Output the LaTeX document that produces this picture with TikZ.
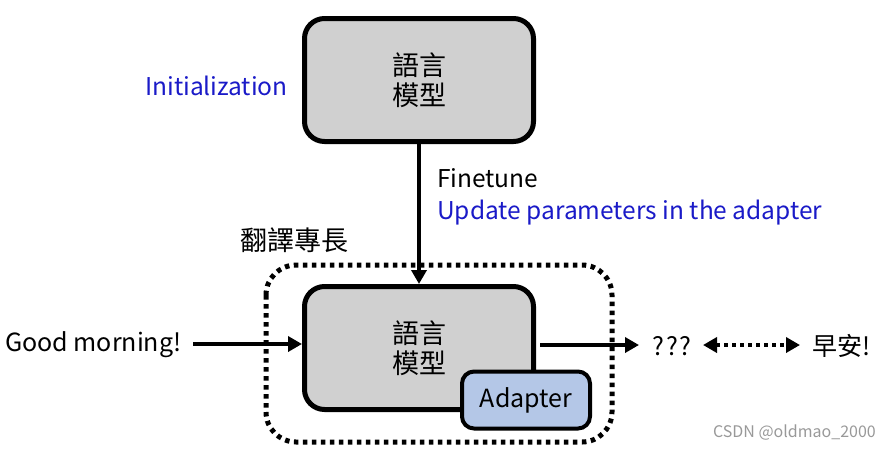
\documentclass[tikz,border=0pt]{standalone}
\usepackage{fontspec}
\setmainfont{Noto Sans CJK TC}
\usetikzlibrary{arrows.meta,positioning}
\definecolor{lmgray}{HTML}{D0D0D0}
\definecolor{adblue}{HTML}{B4C7E7}
\definecolor{ublue}{HTML}{1A1AC8}
\tikzset{
  lmbox/.style={draw=black, line width=5pt, fill=lmgray, rounded corners=20pt, minimum width=229pt, minimum height=123pt, align=center, font=\fontsize{27}{34}\selectfont, inner sep=0pt},
  adbox/.style={draw=black, line width=4pt, fill=adblue, rounded corners=12pt, minimum width=128pt, minimum height=57pt, font=\fontsize{25}{28}\selectfont, inner sep=0pt},
  lbl/.style={font=\fontsize{24.5}{28}\selectfont, inner sep=0pt},
  bluelbl/.style={lbl, text=ublue},
  biglbl/.style={font=\fontsize{25}{30}\selectfont, inner sep=0pt},
  arr/.style={line width=4pt, -{Triangle[length=14pt,width=15pt]}},
  dotbox/.style={draw=black, line width=5pt, dash pattern=on 4.5pt off 4.5pt, rounded corners=30pt}
}
\begin{document}
\begin{tikzpicture}[x=1pt,y=-1pt]
\useasboundingbox (0,0) rectangle (892,451);
\fill[white] (0,0) rectangle (892,451);
% dotted group
\draw[dotbox] (266,265) rectangle (612,442);
\node[font=\fontsize{27}{30}\selectfont, inner sep=0pt, anchor=west] (skill) at (240,240) {翻譯專長};
% top LM
\node[lmbox] (top) at (419,80) {語言\\[-4pt]模型};
\node[bluelbl, anchor=west] (init) at (145,86) {Initialization};
% bottom LM
\node[lmbox] (bot) at (419,348) {語言\\[-4pt]模型};
\node[adbox] (ad) at (526,400) {Adapter};
% finetune
\draw[arr] (top.south) -- (bot.north);
\node[lbl, anchor=west] (ft) at (437,178) {Finetune};
\node[bluelbl, anchor=west] (up) at (437,213) {Update parameters in the adapter};
% input/output
\node[biglbl, anchor=west] (in) at (5,345) {Good morning!};
\coordinate (inS) at (193,344);
\draw[arr] (inS) -- (inS -| bot.west);
\node[biglbl, anchor=west] (q) at (652,346) {?\kern2pt?\kern2pt?};
\coordinate (outS) at (540,345);
\draw[arr] (outS) -- ([xshift=-13pt]outS -| q.west);
\node[biglbl, anchor=west] (zh) at (812,346) {早安!};
\coordinate (dl) at (703,345);
\coordinate (dr) at (800,345);
\draw[line width=4pt, dash pattern=on 4pt off 4pt, {Triangle[length=14pt,width=15pt]}-{Triangle[length=14pt,width=15pt]}] (dl) -- (dr);
\node[font=\fontsize{16}{18}\selectfont, text=gray!80, anchor=east, inner sep=0pt] (wm) at (876,433) {CSDN @oldmao\_2000};
\end{tikzpicture}
\end{document}
